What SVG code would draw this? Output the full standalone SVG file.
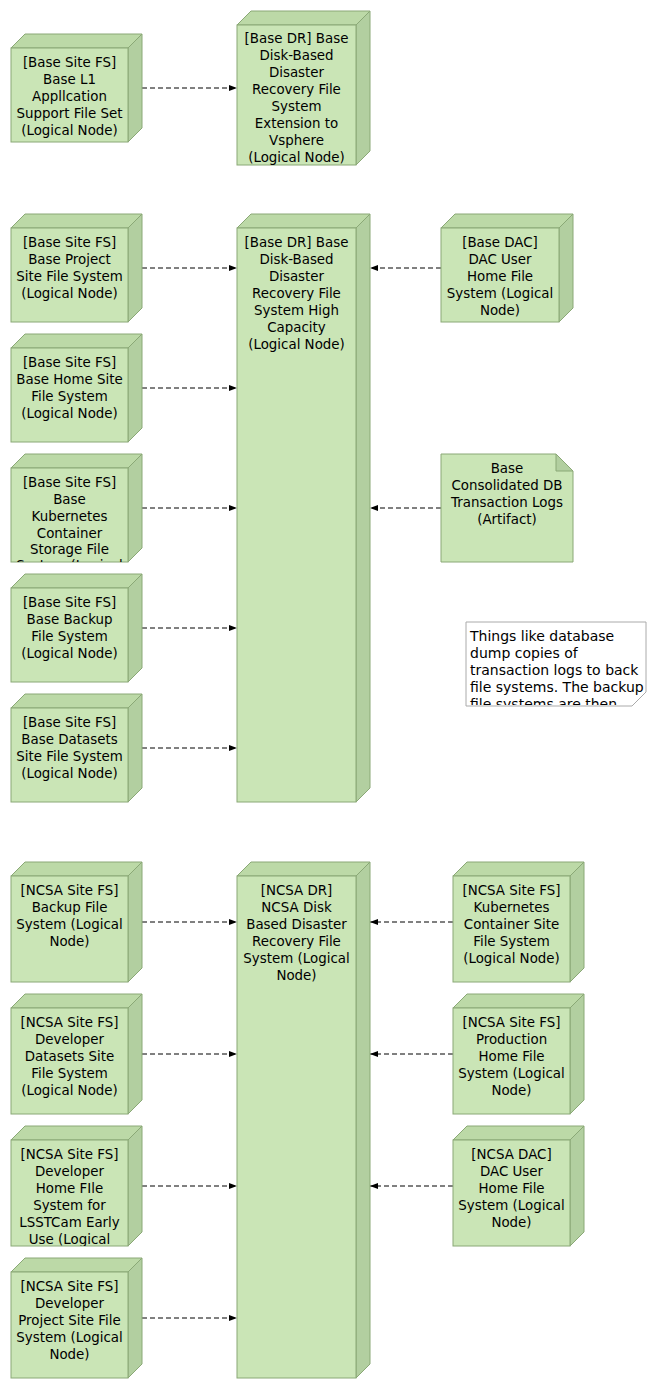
<svg xmlns="http://www.w3.org/2000/svg" width="656" height="1389" viewBox="0 0 656 1389">
<style>
.front{fill:#cae5b6;stroke:#8aa876;stroke-width:1}
.top{fill:#bcd9a7;stroke:#8aa876;stroke-width:1}
.side{fill:#b2cfa0;stroke:#8aa876;stroke-width:1}
.t{font-family:"DejaVu Sans","Liberation Sans",sans-serif;font-size:13.4px;fill:#000;text-anchor:middle}
.nt{font-family:"DejaVu Sans","Liberation Sans",sans-serif;font-size:14px;fill:#000}
.c{fill:none;stroke:#000;stroke-width:1;stroke-dasharray:5,3}
</style>
<defs>
<marker id="ah" markerWidth="9" markerHeight="8" refX="8" refY="4" orient="auto" markerUnits="userSpaceOnUse">
<path d="M0,1 L8,4 L0,7 Z" fill="#000"/>
</marker>
<clipPath id="ck1"><rect x="11" y="468" width="117" height="94"/></clipPath>
<clipPath id="ck2"><rect x="11" y="1140" width="117" height="106"/></clipPath>
<clipPath id="cnote"><rect x="466" y="622" width="180" height="83"/></clipPath>
</defs>

<g id="connectors">
<line class="c" x1="142" y1="88" x2="237" y2="88" marker-end="url(#ah)"/>
<line class="c" x1="142" y1="268" x2="237" y2="268" marker-end="url(#ah)"/>
<line class="c" x1="142" y1="388" x2="237" y2="388" marker-end="url(#ah)"/>
<line class="c" x1="142" y1="508" x2="237" y2="508" marker-end="url(#ah)"/>
<line class="c" x1="142" y1="628" x2="237" y2="628" marker-end="url(#ah)"/>
<line class="c" x1="142" y1="748" x2="237" y2="748" marker-end="url(#ah)"/>
<line class="c" x1="441" y1="268" x2="370" y2="268" marker-end="url(#ah)"/>
<line class="c" x1="441" y1="508" x2="370" y2="508" marker-end="url(#ah)"/>
<line class="c" x1="142" y1="922" x2="237" y2="922" marker-end="url(#ah)"/>
<line class="c" x1="142" y1="1054" x2="237" y2="1054" marker-end="url(#ah)"/>
<line class="c" x1="142" y1="1186" x2="237" y2="1186" marker-end="url(#ah)"/>
<line class="c" x1="142" y1="1318" x2="237" y2="1318" marker-end="url(#ah)"/>
<line class="c" x1="453" y1="922" x2="370" y2="922" marker-end="url(#ah)"/>
<line class="c" x1="453" y1="1054" x2="370" y2="1054" marker-end="url(#ah)"/>
<line class="c" x1="453" y1="1186" x2="370" y2="1186" marker-end="url(#ah)"/>
</g>

<!-- Section 1 -->
<g id="base-l1">
<polygon class="top" points="11,48 25,34 142,34 128,48"/>
<polygon class="side" points="128,48 142,34 142,128 128,142"/>
<rect class="front" x="11" y="48" width="117" height="94"/>
<text class="t" x="69.5" y="67">[Base Site FS]</text>
<text class="t" x="69.5" y="84">Base L1</text>
<text class="t" x="69.5" y="101">Appllcation</text>
<text class="t" x="69.5" y="118">Support File Set</text>
<text class="t" x="69.5" y="135">(Logical Node)</text>
</g>
<g id="base-dr-vsphere">
<polygon class="top" points="237,25 251,11 370,11 356,25"/>
<polygon class="side" points="356,25 370,11 370,151 356,165"/>
<rect class="front" x="237" y="25" width="119" height="140"/>
<text class="t" x="296.5" y="43">[Base DR] Base</text>
<text class="t" x="296.5" y="60">Disk-Based</text>
<text class="t" x="296.5" y="77">Disaster</text>
<text class="t" x="296.5" y="94">Recovery File</text>
<text class="t" x="296.5" y="111">System</text>
<text class="t" x="296.5" y="128">Extension to</text>
<text class="t" x="296.5" y="145">Vsphere</text>
<text class="t" x="296.5" y="162">(Logical Node)</text>
</g>

<!-- Section 2 -->
<g id="base-project">
<polygon class="top" points="11,228 25,214 142,214 128,228"/>
<polygon class="side" points="128,228 142,214 142,308 128,322"/>
<rect class="front" x="11" y="228" width="117" height="94"/>
<text class="t" x="69.5" y="247">[Base Site FS]</text>
<text class="t" x="69.5" y="264">Base Project</text>
<text class="t" x="69.5" y="281">Site File System</text>
<text class="t" x="69.5" y="298">(Logical Node)</text>
</g>
<g id="base-home">
<polygon class="top" points="11,348 25,334 142,334 128,348"/>
<polygon class="side" points="128,348 142,334 142,428 128,442"/>
<rect class="front" x="11" y="348" width="117" height="94"/>
<text class="t" x="69.5" y="367">[Base Site FS]</text>
<text class="t" x="69.5" y="384">Base Home Site</text>
<text class="t" x="69.5" y="401">File System</text>
<text class="t" x="69.5" y="418">(Logical Node)</text>
</g>
<g id="base-kubernetes">
<polygon class="top" points="11,468 25,454 142,454 128,468"/>
<polygon class="side" points="128,468 142,454 142,548 128,562"/>
<rect class="front" x="11" y="468" width="117" height="94"/>
<g clip-path="url(#ck1)">
<text class="t" x="69.5" y="487">[Base Site FS]</text>
<text class="t" x="69.5" y="504">Base</text>
<text class="t" x="69.5" y="521">Kubernetes</text>
<text class="t" x="69.5" y="538">Container</text>
<text class="t" x="69.5" y="554">Storage File</text>
<text class="t" x="69.5" y="570">System (Logical</text>
</g>
</g>
<g id="base-backup">
<polygon class="top" points="11,588 25,574 142,574 128,588"/>
<polygon class="side" points="128,588 142,574 142,668 128,682"/>
<rect class="front" x="11" y="588" width="117" height="94"/>
<text class="t" x="69.5" y="607">[Base Site FS]</text>
<text class="t" x="69.5" y="624">Base Backup</text>
<text class="t" x="69.5" y="641">File System</text>
<text class="t" x="69.5" y="658">(Logical Node)</text>
</g>
<g id="base-datasets">
<polygon class="top" points="11,708 25,694 142,694 128,708"/>
<polygon class="side" points="128,708 142,694 142,788 128,802"/>
<rect class="front" x="11" y="708" width="117" height="94"/>
<text class="t" x="69.5" y="727">[Base Site FS]</text>
<text class="t" x="69.5" y="744">Base Datasets</text>
<text class="t" x="69.5" y="761">Site File System</text>
<text class="t" x="69.5" y="778">(Logical Node)</text>
</g>
<g id="base-dr-high">
<polygon class="top" points="237,228 251,214 370,214 356,228"/>
<polygon class="side" points="356,228 370,214 370,788 356,802"/>
<rect class="front" x="237" y="228" width="119" height="574"/>
<text class="t" x="296.5" y="247">[Base DR] Base</text>
<text class="t" x="296.5" y="264">Disk-Based</text>
<text class="t" x="296.5" y="281">Disaster</text>
<text class="t" x="296.5" y="298">Recovery File</text>
<text class="t" x="296.5" y="315">System High</text>
<text class="t" x="296.5" y="332">Capacity</text>
<text class="t" x="296.5" y="349">(Logical Node)</text>
</g>
<g id="base-dac">
<polygon class="top" points="441,228 455,214 573,214 559,228"/>
<polygon class="side" points="559,228 573,214 573,308 559,322"/>
<rect class="front" x="441" y="228" width="118" height="94"/>
<text class="t" x="500" y="247">[Base DAC]</text>
<text class="t" x="500" y="264">DAC User</text>
<text class="t" x="500" y="281">Home File</text>
<text class="t" x="500" y="298">System (Logical</text>
<text class="t" x="500" y="315">Node)</text>
</g>
<g id="base-artifact">
<polygon class="front" points="441,454 556,454 573,471 573,562 441,562"/>
<polygon class="side" points="556,454 556,471 573,471"/>
<text class="t" x="507" y="473">Base</text>
<text class="t" x="507" y="490">Consolidated DB</text>
<text class="t" x="507" y="507">Transaction Logs</text>
<text class="t" x="507" y="524">(Artifact)</text>
</g>
<g id="note">
<polygon points="466,622 646,622 646,692 632,706 466,706" fill="#fff" stroke="#aaaaaa" stroke-width="1"/>
<g clip-path="url(#cnote)">
<text class="nt" x="470" y="641">Things like database</text>
<text class="nt" x="470" y="658">dump copies of</text>
<text class="nt" x="470" y="675">transaction logs to back</text>
<text class="nt" x="470" y="692">file systems. The backup</text>
<text class="nt" x="470" y="709">file systems are then</text>
</g>
</g>

<!-- Section 3 -->
<g id="ncsa-backup">
<polygon class="top" points="11,876 25,862 142,862 128,876"/>
<polygon class="side" points="128,876 142,862 142,968 128,982"/>
<rect class="front" x="11" y="876" width="117" height="106"/>
<text class="t" x="69.5" y="895">[NCSA Site FS]</text>
<text class="t" x="69.5" y="912">Backup File</text>
<text class="t" x="69.5" y="929">System (Logical</text>
<text class="t" x="69.5" y="946">Node)</text>
</g>
<g id="ncsa-dev-datasets">
<polygon class="top" points="11,1008 25,994 142,994 128,1008"/>
<polygon class="side" points="128,1008 142,994 142,1100 128,1114"/>
<rect class="front" x="11" y="1008" width="117" height="106"/>
<text class="t" x="69.5" y="1027">[NCSA Site FS]</text>
<text class="t" x="69.5" y="1044">Developer</text>
<text class="t" x="69.5" y="1061">Datasets Site</text>
<text class="t" x="69.5" y="1078">File System</text>
<text class="t" x="69.5" y="1095">(Logical Node)</text>
</g>
<g id="ncsa-dev-home">
<polygon class="top" points="11,1140 25,1126 142,1126 128,1140"/>
<polygon class="side" points="128,1140 142,1126 142,1232 128,1246"/>
<rect class="front" x="11" y="1140" width="117" height="106"/>
<g clip-path="url(#ck2)">
<text class="t" x="69.5" y="1159">[NCSA Site FS]</text>
<text class="t" x="69.5" y="1176">Developer</text>
<text class="t" x="69.5" y="1193">Home FIle</text>
<text class="t" x="69.5" y="1210">System for</text>
<text class="t" x="69.5" y="1227">LSSTCam Early</text>
<text class="t" x="69.5" y="1244">Use (Logical</text>
</g>
</g>
<g id="ncsa-dev-project">
<polygon class="top" points="11,1272 25,1258 142,1258 128,1272"/>
<polygon class="side" points="128,1272 142,1258 142,1364 128,1378"/>
<rect class="front" x="11" y="1272" width="117" height="106"/>
<text class="t" x="69.5" y="1291">[NCSA Site FS]</text>
<text class="t" x="69.5" y="1308">Developer</text>
<text class="t" x="69.5" y="1325">Project Site File</text>
<text class="t" x="69.5" y="1342">System (Logical</text>
<text class="t" x="69.5" y="1359">Node)</text>
</g>
<g id="ncsa-dr">
<polygon class="top" points="237,876 251,862 370,862 356,876"/>
<polygon class="side" points="356,876 370,862 370,1364 356,1378"/>
<rect class="front" x="237" y="876" width="119" height="502"/>
<text class="t" x="296.5" y="895">[NCSA DR]</text>
<text class="t" x="296.5" y="912">NCSA Disk</text>
<text class="t" x="296.5" y="929">Based Disaster</text>
<text class="t" x="296.5" y="946">Recovery File</text>
<text class="t" x="296.5" y="963">System (Logical</text>
<text class="t" x="296.5" y="980">Node)</text>
</g>
<g id="ncsa-kubernetes">
<polygon class="top" points="453,876 467,862 584,862 570,876"/>
<polygon class="side" points="570,876 584,862 584,968 570,982"/>
<rect class="front" x="453" y="876" width="117" height="106"/>
<text class="t" x="511.5" y="895">[NCSA Site FS]</text>
<text class="t" x="511.5" y="912">Kubernetes</text>
<text class="t" x="511.5" y="929">Container Site</text>
<text class="t" x="511.5" y="946">File System</text>
<text class="t" x="511.5" y="963">(Logical Node)</text>
</g>
<g id="ncsa-prod-home">
<polygon class="top" points="453,1008 467,994 584,994 570,1008"/>
<polygon class="side" points="570,1008 584,994 584,1100 570,1114"/>
<rect class="front" x="453" y="1008" width="117" height="106"/>
<text class="t" x="511.5" y="1027">[NCSA Site FS]</text>
<text class="t" x="511.5" y="1044">Production</text>
<text class="t" x="511.5" y="1061">Home File</text>
<text class="t" x="511.5" y="1078">System (Logical</text>
<text class="t" x="511.5" y="1095">Node)</text>
</g>
<g id="ncsa-dac">
<polygon class="top" points="453,1140 467,1126 584,1126 570,1140"/>
<polygon class="side" points="570,1140 584,1126 584,1232 570,1246"/>
<rect class="front" x="453" y="1140" width="117" height="106"/>
<text class="t" x="511.5" y="1159">[NCSA DAC]</text>
<text class="t" x="511.5" y="1176">DAC User</text>
<text class="t" x="511.5" y="1193">Home File</text>
<text class="t" x="511.5" y="1210">System (Logical</text>
<text class="t" x="511.5" y="1227">Node)</text>
</g>
</svg>
